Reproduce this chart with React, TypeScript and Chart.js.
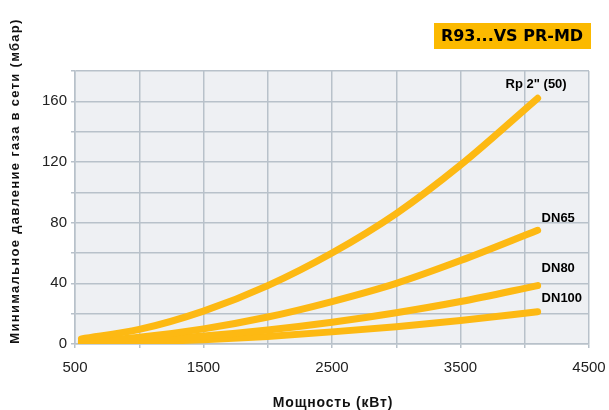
import React, { useEffect, useRef } from "react";
import { Chart, registerables } from "chart.js";

Chart.register(...registerables);

const powerKW = [550, 1000, 1500, 2000, 2500, 3000, 3500, 4100];
const rp2 = [3.4, 9.6, 21.7, 38.5, 60, 86, 118, 162];
const dn65 = [1.6, 4.5, 10, 17.8, 28, 40, 55, 75];
const dn80 = [0.8, 2.3, 5.2, 9.2, 14.3, 20.6, 28, 38.5];
const dn100 = [0.5, 1.3, 2.8, 5, 8, 11.4, 15.5, 21.3];
const seriesNames = ['Rp 2" (50)', "DN65", "DN80", "DN100"];
const xTickLabels = [500, 1500, 2500, 3500, 4500];
const yTickLabels = [0, 40, 80, 120, 160];
const chartTitle = "R93...VS PR-MD";
const xTitle = "Мощность (кВт)";
const yTitle = "Минимальное давление газа в сети (мбар)";

const YELLOW = "#FDB913";
const FONT = "'Liberation Sans', Arial, sans-serif";

export default function App() {
  const ref = useRef<HTMLCanvasElement>(null);
  useEffect(() => {
    if (!ref.current) return;
    const all = [rp2, dn65, dn80, dn100];
    const labelOffsets = [
      { dx: -32, dy: -14 },
      { dx: 4, dy: -12 },
      { dx: 4, dy: -17 },
      { dx: 4, dy: -13 },
    ];
    const deco = {
      id: "deco",
      beforeDraw(chart: any) {
        const { ctx, chartArea } = chart;
        ctx.save();
        ctx.fillStyle = "#EEF0F3";
        ctx.fillRect(chartArea.left, chartArea.top, chartArea.right - chartArea.left, chartArea.bottom - chartArea.top);
        ctx.restore();
      },
      afterDraw(chart: any) {
        const { ctx } = chart;
        const xs = chart.scales.x;
        const ys = chart.scales.y;
        ctx.save();
        // title box
        ctx.fillStyle = "#FBB900";
        ctx.fillRect(434, 23, 157, 26);
        ctx.fillStyle = "#000";
        ctx.font = "bold 16px 'DejaVu Sans', sans-serif";
        ctx.textAlign = "center";
        ctx.textBaseline = "middle";
        ctx.fillText(chartTitle, 512, 37);
        // series labels
        ctx.font = "bold 13px " + FONT;
        ctx.textBaseline = "middle";
        ctx.textAlign = "left";
        all.forEach((arr, i) => {
          const n = arr.length - 1;
          const px = xs.getPixelForValue(powerKW[n]);
          const py = ys.getPixelForValue(arr[n]);
          const o = labelOffsets[i];
          ctx.fillText(seriesNames[i], px + o.dx, py + o.dy);
        });
        // axis titles
        ctx.fillStyle = "#111";
        ctx.font = "bold 14px " + FONT;
        ctx.textAlign = "center";
        ctx.textBaseline = "middle";
        try { (ctx as any).letterSpacing = "0.8px"; } catch (e) {}
        ctx.fillText(xTitle, 333, 403);
        ctx.translate(15, 181);
        ctx.rotate(-Math.PI / 2);
        try { (ctx as any).letterSpacing = "1.3px"; } catch (e) {}
        ctx.font = "bold 13px " + FONT;
        ctx.fillText(yTitle, 0, 0);
        ctx.restore();
      },
    };
    const mk = (data: number[]) => ({
      data: powerKW.map((x, i) => ({ x, y: data[i] })),
      borderColor: YELLOW,
      backgroundColor: YELLOW,
      borderWidth: 7,
      borderCapStyle: "round" as const,
      borderJoinStyle: "round" as const,
      pointRadius: 0,
      cubicInterpolationMode: "monotone" as const,
      fill: false,
    });
    const chart = new Chart(ref.current, {
      type: "line",
      data: { datasets: [mk(rp2), mk(dn65), mk(dn80), mk(dn100)] },
      options: {
        animation: false,
        responsive: false,
        maintainAspectRatio: false,
        layout: { padding: { top: 71, right: 20, left: 0, bottom: 0 } },
        plugins: { legend: { display: false }, tooltip: { enabled: false }, title: { display: false } },
        scales: {
          x: {
            type: "linear",
            min: 500,
            max: 4500,
            afterBuildTicks: (s: any) => {
              const t = [];
              for (let v = 500; v <= 4500; v += 500) t.push({ value: v });
              s.ticks = t;
            },
            afterFit: (s: any) => { s.height = 66; s.paddingLeft = 0; s.paddingRight = 0; },
            grid: { color: "#B8C1CA", lineWidth: 1.5, tickLength: 4, drawTicks: true },
            border: { color: "#B8C1CA", width: 1.5 },
            ticks: {
              autoSkip: false,
              maxRotation: 0,
              padding: 11,
              color: "#222",
              font: { family: FONT, size: 15 },
              callback: (v: any) => (xTickLabels.includes(Number(v)) ? String(v) : ""),
            },
          },
          y: {
            type: "linear",
            min: 0,
            max: 180,
            afterBuildTicks: (s: any) => {
              const t = [];
              for (let v = 0; v <= 180; v += 20) t.push({ value: v });
              s.ticks = t;
            },
            afterFit: (s: any) => { s.width = 75; s.paddingTop = 0; s.paddingBottom = 0; },
            grid: { color: "#B8C1CA", lineWidth: 1.5, tickLength: 4 },
            border: { color: "#B8C1CA", width: 1.5 },
            ticks: {
              autoSkip: false,
              padding: 4,
              color: "#222",
              font: { family: FONT, size: 15 },
              callback: (v: any) => (yTickLabels.includes(Number(v)) ? String(v) : ""),
            },
          },
        },
      },
      plugins: [deco],
    });
    return () => chart.destroy();
  }, []);
  return (
    <div style={{ position: "fixed", left: 0, top: 0, width: 609, height: 410, background: "#fff" }}>
      <canvas ref={ref} width={609} height={410} style={{ width: 609, height: 410, display: "block" }} />
    </div>
  );
}
